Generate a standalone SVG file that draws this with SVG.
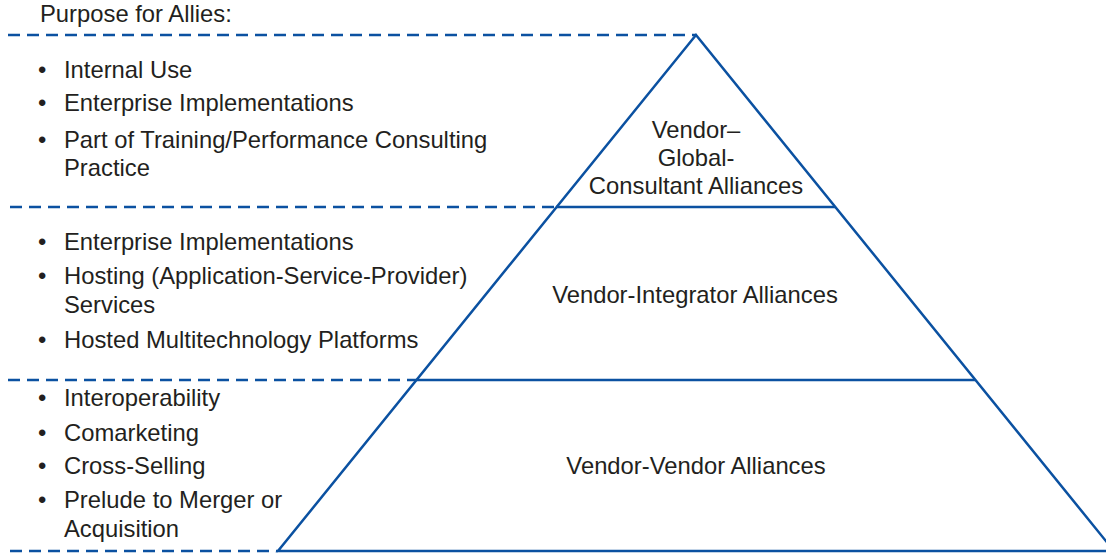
<svg xmlns="http://www.w3.org/2000/svg" width="1106" height="555" viewBox="0 0 1106 555">
<style>
.t{font-family:"Liberation Sans",Arial,sans-serif;font-size:23.8px;fill:#231f20}
.c{text-anchor:middle}
.d{stroke:#0b51a1;stroke-width:2.5;stroke-dasharray:12 7;fill:none}
.s{stroke:#0b51a1;stroke-width:2.5;fill:none}
</style>
<rect width="1106" height="555" fill="#fff"/>
<g id="connectors">
<line class="d" x1="8" y1="35" x2="696" y2="35"/>
<line class="d" x1="10" y1="207" x2="556" y2="207"/>
<line class="d" x1="8" y1="380" x2="416" y2="380"/>
<line class="d" x1="10" y1="551" x2="278" y2="551"/>
</g>
<g id="pyramid">
<polygon class="s" points="696,35 278,551 1114,551"/>
<line class="s" x1="556" y1="207" x2="835" y2="207"/>
<line class="s" x1="416" y1="380" x2="975" y2="380"/>
</g>
<g id="header"><text class="t" x="40" y="22">Purpose for Allies:</text></g>
<g id="purpose-top">
<text class="t" x="38" y="78">•</text><text class="t" x="64" y="78">Internal Use</text>
<text class="t" x="38" y="111">•</text><text class="t" x="64" y="111">Enterprise Implementations</text>
<text class="t" x="38" y="148">•</text><text class="t" x="64" y="148">Part of Training/Performance Consulting</text>
<text class="t" x="64" y="176">Practice</text>
</g>
<g id="purpose-mid">
<text class="t" x="38" y="250">•</text><text class="t" x="64" y="250">Enterprise Implementations</text>
<text class="t" x="38" y="284">•</text><text class="t" x="64" y="284">Hosting (Application-Service-Provider)</text>
<text class="t" x="64" y="313">Services</text>
<text class="t" x="38" y="348">•</text><text class="t" x="64" y="348">Hosted Multitechnology Platforms</text>
</g>
<g id="purpose-bottom">
<text class="t" x="38" y="406">•</text><text class="t" x="64" y="406">Interoperability</text>
<text class="t" x="38" y="441">•</text><text class="t" x="64" y="441">Comarketing</text>
<text class="t" x="38" y="474">•</text><text class="t" x="64" y="474">Cross-Selling</text>
<text class="t" x="38" y="508">•</text><text class="t" x="64" y="508">Prelude to Merger or</text>
<text class="t" x="64" y="537">Acquisition</text>
</g>
<g id="tier-top">
<text class="t c" x="696" y="138">Vendor–</text>
<text class="t c" x="696" y="166">Global-</text>
<text class="t c" x="696" y="194">Consultant Alliances</text>
</g>
<g id="tier-mid"><text class="t c" x="695" y="303">Vendor-Integrator Alliances</text></g>
<g id="tier-bottom"><text class="t c" x="696" y="474">Vendor-Vendor Alliances</text></g>
</svg>
